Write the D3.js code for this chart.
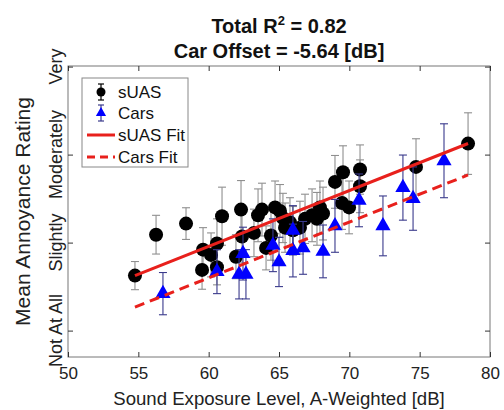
<!DOCTYPE html>
<html>
<head>
<meta charset="utf-8">
<script src="https://cdn.jsdelivr.net/npm/d3@7"></script>
<style>
  body { margin: 0; background: #fff; }
  svg { display: block; }
  text { font-family: "Liberation Sans", Arial, sans-serif; }
</style>
</head>
<body>
<svg id="chart" width="504" height="410"></svg>
<script>
// ---- data ----
const suasX = [54.76, 56.26, 58.39, 59.60, 59.53, 60.17, 60.59, 60.59, 60.95, 61.94,
               62.37, 62.30, 63.22, 63.51, 63.79, 64.08, 64.43, 64.72, 65.07, 65.28,
               65.43, 65.78, 65.99, 66.49, 66.85, 67.35, 67.70, 67.91, 68.13, 68.98,
               69.55, 69.48, 69.98, 70.76, 70.76, 74.74, 78.44];
const suasY = [1.625, 2.09, 2.216, 1.92, 1.69, 1.86, 1.99, 1.72, 2.30, 1.84,
               2.07, 2.375, 2.11, 2.31, 2.375, 1.94, 2.08, 2.40, 2.36, 2.28,
               2.17, 2.23, 2.14, 2.17, 2.27, 2.31, 2.27, 2.40, 2.33, 2.69,
               2.80, 2.45, 2.40, 2.83, 2.64, 2.86, 3.125];
const suasErr = [0.16, 0.22, 0.18, 0.25, 0.22, 0.25, 0.28, 0.2, 0.33, 0.25,
                 0.3, 0.33, 0.27, 0.3, 0.3, 0.25, 0.28, 0.3, 0.3, 0.28,
                 0.28, 0.28, 0.27, 0.3, 0.28, 0.3, 0.3, 0.3, 0.3, 0.3,
                 0.3, 0.3, 0.3, 0.28, 0.3, 0.32, 0.35];

const carsX = [56.75, 60.59, 62.16, 62.65, 62.44, 64.57, 65.00, 65.99, 65.99, 66.71,
               68.13, 68.98, 70.69, 72.39, 73.81, 74.53, 76.73];
const carsY = [1.42, 1.67, 1.64, 1.64, 1.875, 1.97, 1.78, 2.14, 1.91, 1.94,
               1.90, 2.19, 2.48, 2.19, 2.625, 2.5, 2.93];
const carsErr = [0.24, 0.25, 0.28, 0.28, 0.3, 0.3, 0.28, 0.28, 0.3, 0.3,
                 0.3, 0.3, 0.3, 0.34, 0.37, 0.36, 0.42];

const fitIntercept = -1.847;
const fitSlope = 0.0634;
const carOffset = -5.64;
const fitRange = [54.76, 78.44];

const xTicks = [50, 55, 60, 65, 70, 75, 80];
const yTicks = [1, 2, 3, 4];
const yTickLabels = ["Not At All", "Slightly", "Moderately", "Very"];

// ---- layout ----
const svg = d3.select("#chart");
const L = 68, R = 490, T = 66, B = 357;
const x = d3.scaleLinear().domain([50, 80]).range([L, R]);
const y = d3.scaleLinear().domain([0.7, 4]).range([B, 66.6]);

const boxColor = "#777";

// axes frame
svg.append("rect").attr("x", L).attr("y", T).attr("width", R - L).attr("height", B - T)
  .attr("fill", "none").attr("stroke", boxColor).attr("stroke-width", 1);

// ticks inward
const tickLen = 5;
const gx = svg.append("g").attr("transform", `translate(0,${B})`)
  .call(d3.axisBottom(x).tickValues(xTicks).tickSizeInner(-tickLen).tickSizeOuter(0).tickPadding(10).tickFormat(d3.format("d")));
const gxTop = svg.append("g").attr("transform", `translate(0,${T})`)
  .call(d3.axisTop(x).tickValues(xTicks).tickSizeInner(-tickLen).tickSizeOuter(0).tickFormat(""));
const gy = svg.append("g").attr("transform", `translate(${L},0)`)
  .call(d3.axisLeft(y).tickValues(yTicks).tickSizeInner(-tickLen).tickSizeOuter(0).tickFormat(""));
const gyR = svg.append("g").attr("transform", `translate(${R},0)`)
  .call(d3.axisRight(y).tickValues(yTicks).tickSizeInner(-tickLen).tickSizeOuter(0).tickFormat(""));
[gx, gxTop, gy, gyR].forEach(g => {
  g.select(".domain").remove();
  g.selectAll(".tick line").attr("stroke", "#333");
});
gx.selectAll(".tick text").attr("font-size", 17).attr("fill", "#222")
  .attr("font-family", "Liberation Sans, Arial, sans-serif");

// y tick labels rotated
svg.append("g").selectAll("text").data(yTicks).join("text")
  .attr("transform", (d) => `translate(${L - 6},${y(d)}) rotate(-90)`)
  .attr("text-anchor", "middle")
  .attr("font-size", 18).attr("fill", "#222")
  .text((d, i) => yTickLabels[i]);

// axis labels
svg.append("text").attr("x", (L + R) / 2).attr("y", 405).attr("text-anchor", "middle")
  .attr("font-size", 18.6).attr("fill", "#222").text("Sound Exposure Level, A-Weighted [dB]");
svg.append("text").attr("transform", `translate(30,${(T + B) / 2}) rotate(-90)`)
  .attr("text-anchor", "middle").attr("font-size", 21).attr("fill", "#222")
  .text("Mean Annoyance Rating");

// title
const t1 = svg.append("text").attr("x", (L + R) / 2).attr("y", 33).attr("text-anchor", "middle")
  .attr("font-size", 20).attr("font-weight", "bold").attr("fill", "#111");
t1.append("tspan").text("Total R");
t1.append("tspan").attr("font-size", 13).attr("dy", -8).text("2");
t1.append("tspan").attr("dy", 8).text(" = 0.82");
svg.append("text").attr("x", (L + R) / 2).attr("y", 58).attr("text-anchor", "middle")
  .attr("font-size", 20).attr("font-weight", "bold").attr("fill", "#111")
  .text("Car Offset = -5.64 [dB]");

// clip
svg.append("clipPath").attr("id", "clip").append("rect")
  .attr("x", L).attr("y", T).attr("width", R - L).attr("height", B - T);
const plot = svg.append("g").attr("clip-path", "url(#clip)");

const cap = 4;
function errorbars(g, xs, ys, es, color) {
  const d = xs.map((v, i) => ({ x: v, y: ys[i], e: es[i] }));
  const eg = g.append("g").attr("stroke", color).attr("stroke-width", 1.1).attr("fill", "none");
  eg.selectAll("line.v").data(d).join("line").attr("class", "v")
    .attr("x1", p => x(p.x)).attr("x2", p => x(p.x))
    .attr("y1", p => y(p.y - p.e)).attr("y2", p => y(p.y + p.e));
  eg.selectAll("line.t").data(d).join("line").attr("class", "t")
    .attr("x1", p => x(p.x) - cap).attr("x2", p => x(p.x) + cap)
    .attr("y1", p => y(p.y + p.e)).attr("y2", p => y(p.y + p.e));
  eg.selectAll("line.b").data(d).join("line").attr("class", "b")
    .attr("x1", p => x(p.x) - cap).attr("x2", p => x(p.x) + cap)
    .attr("y1", p => y(p.y - p.e)).attr("y2", p => y(p.y - p.e));
  return d;
}

const tri = d3.symbol().type(d3.symbolTriangle).size(100);

// sUAS
const sd = errorbars(plot, suasX, suasY, suasErr, "#8f8f8f");
plot.append("g").selectAll("circle").data(sd).join("circle")
  .attr("cx", p => x(p.x)).attr("cy", p => y(p.y)).attr("r", 7).attr("fill", "#000");

// Cars
const cd = errorbars(plot, carsX, carsY, carsErr, "#3a3a8c");
plot.append("g").selectAll("path").data(cd).join("path")
  .attr("d", tri).attr("transform", p => `translate(${x(p.x)},${y(p.y)})`)
  .attr("fill", "#0000ff");

// fits
const suasFit = v => fitIntercept + fitSlope * v;
const carsFit = v => fitIntercept + fitSlope * (v + carOffset);
const line = d3.line().x(d => x(d[0])).y(d => y(d[1]));
plot.append("path").datum(fitRange.map(v => [v, suasFit(v)])).attr("d", line)
  .attr("stroke", "#e8201c").attr("stroke-width", 3).attr("fill", "none");
plot.append("path").datum(fitRange.map(v => [v, carsFit(v)])).attr("d", line)
  .attr("stroke", "#e8201c").attr("stroke-width", 3).attr("fill", "none")
  .attr("stroke-dasharray", "10,6");

// legend
const lg = svg.append("g");
lg.append("rect").attr("x", 82).attr("y", 78).attr("width", 106).attr("height", 89)
  .attr("fill", "#fff").attr("stroke", "#888").attr("stroke-width", 1);
const items = ["sUAS", "Cars", "sUAS Fit", "Cars Fit"];
const rowY = [92, 113, 135, 157];
items.forEach((name, i) => {
  const cy = rowY[i];
  if (i < 2) {
    const col = i === 0 ? "#000" : "#3a3a8c";
    lg.append("line").attr("x1", 101).attr("x2", 101).attr("y1", cy - 8).attr("y2", cy + 8).attr("stroke", col).attr("stroke-width", 1.2);
    lg.append("line").attr("x1", 98).attr("x2", 104).attr("y1", cy - 8).attr("y2", cy - 8).attr("stroke", col).attr("stroke-width", 1.2);
    lg.append("line").attr("x1", 98).attr("x2", 104).attr("y1", cy + 8).attr("y2", cy + 8).attr("stroke", col).attr("stroke-width", 1.2);
    if (i === 0) lg.append("circle").attr("cx", 101).attr("cy", cy).attr("r", 4.5).attr("fill", "#000");
    else lg.append("path").attr("d", d3.symbol().type(d3.symbolTriangle).size(45)).attr("transform", `translate(101,${cy})`).attr("fill", "#0000ff");
  } else {
    lg.append("line").attr("x1", 87).attr("x2", 115).attr("y1", cy).attr("y2", cy)
      .attr("stroke", "#e8201c").attr("stroke-width", 3)
      .attr("stroke-dasharray", i === 3 ? "8,5" : null);
  }
  lg.append("text").attr("x", 118).attr("y", cy + 6).attr("font-size", 17).attr("fill", "#111").text(name);
});
</script>
</body>
</html>
